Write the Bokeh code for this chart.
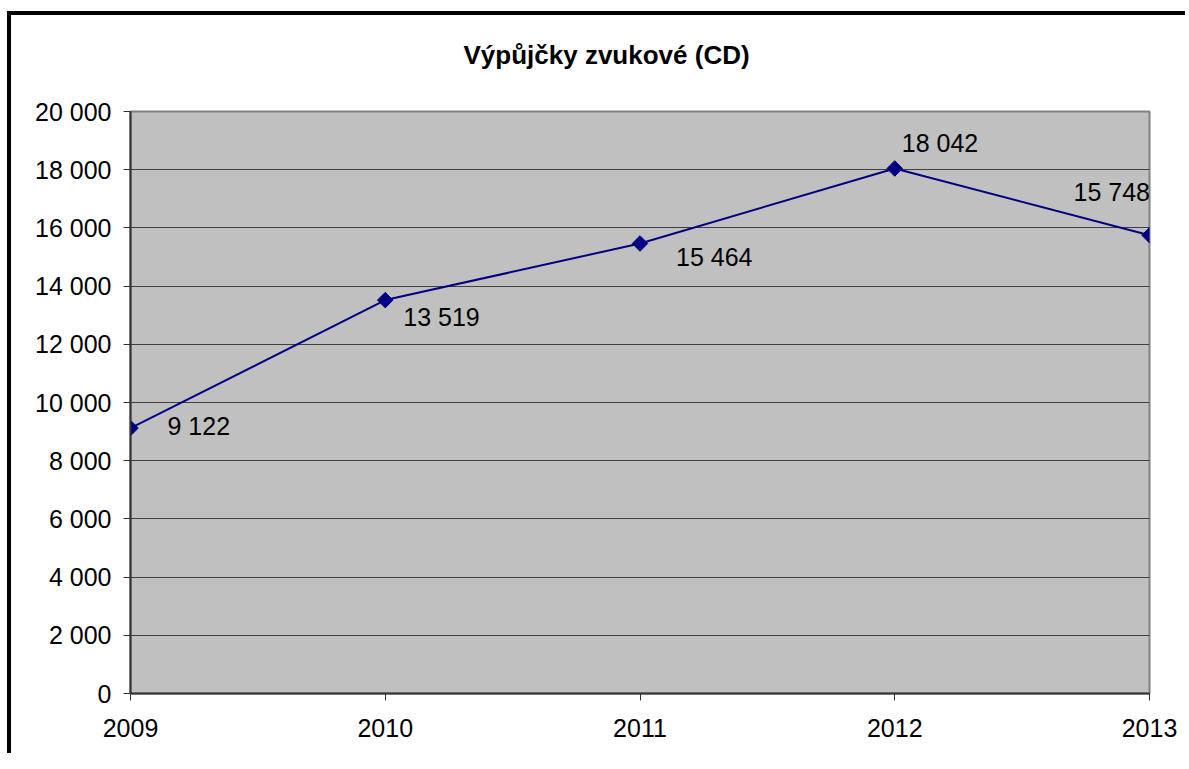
import math
from bokeh.plotting import figure
from bokeh.models import Range1d, FixedTicker, ColumnDataSource
from bokeh.core.properties import value
from bokeh.embed import file_html
from bokeh.resources import INLINE

# ---- data ----
chart_title = "Výpůjčky zvukové (CD)"
years = [2009, 2010, 2011, 2012, 2013]
loans = [9122, 13519, 15464, 18042, 15748]
x_tick_labels = ["2009", "2010", "2011", "2012", "2013"]
y_ticks = [0, 2000, 4000, 6000, 8000, 10000, 12000, 14000, 16000, 18000, 20000]
y_tick_labels = ["0", "2 000", "4 000", "6 000", "8 000", "10 000",
                 "12 000", "14 000", "16 000", "18 000", "20 000"]
y_min, y_max = 0, 20000

# ---- label placement (pixels, relative to each point) ----
label_dx = [37, 18, 36, 7, -76]
label_dy = [-2, 17, 14, -25, -43]

FONT = "Liberation Sans"
W, H = 1185, 753

p = figure(width=W, height=H, output_backend="svg", toolbar_location=None,
           x_range=Range1d(years[0], years[-1]), y_range=Range1d(y_min, y_max),
           min_border_left=130, min_border_right=W - 1149,
           min_border_top=110, min_border_bottom=H - 693)

# outer chart frame: a 4px black band on the left and top edges
# (inset shadows painted under the transparent canvas border)
p.styles = {"box-shadow": "inset 7px 11px 0px 0px white, "
                          "inset 11px 15px 0px 0px black"}
p.border_fill_color = None

p.background_fill_color = "#C0C0C0"
p.outline_line_color = "#808080"
p.outline_line_width = 2

# axes
for ax in (p.xaxis[0], p.yaxis[0]):
    ax.axis_line_color = "#333333"
    ax.axis_line_width = 2
    ax.major_tick_line_color = "#333333"
    ax.major_tick_line_width = 1
    ax.major_tick_in = 0
    ax.major_tick_out = 7
    ax.minor_tick_line_color = None
    ax.major_label_text_font = FONT
    ax.major_label_text_font_size = "25px"
    ax.major_label_text_color = "black"

p.xaxis.ticker = FixedTicker(ticks=years)
p.xaxis.major_label_overrides = {y: t for y, t in zip(years, x_tick_labels)}
p.xaxis.major_label_standoff = 18

p.yaxis.ticker = FixedTicker(ticks=y_ticks)
p.yaxis.major_label_overrides = {v: t for v, t in zip(y_ticks, y_tick_labels)}
p.yaxis.major_label_standoff = 12

p.xgrid.grid_line_color = None
p.ygrid.grid_line_color = "#404040"
p.ygrid.grid_line_width = 1

# series
p.line(years, loans, line_color="#000080", line_width=2)
p.scatter(years, loans, marker="square", angle=math.pi / 4, size=11,
          fill_color="#000080", line_color="#000080")

src = ColumnDataSource(dict(
    x=years, y=loans,
    txt=[f"{v:,}".replace(",", " ") for v in loans],
    dx=label_dx, dy=label_dy,
))
p.text(x="x", y="y", text="txt", x_offset="dx", y_offset="dy", source=src,
       text_font=value(FONT), text_font_size="25px", text_color="black",
       text_align="left", text_baseline="middle")

# chart title (the standoff lifts it well above the plot area)
p.title.text = chart_title
p.title.text_font = FONT
p.title.text_font_size = "26px"
p.title.text_font_style = "bold"
p.title.text_color = "black"
p.title.align = "left"
p.title.offset = 333
p.title.vertical_align = "top"
p.title.standoff = 79

open("out.html", "w").write(file_html(p, INLINE))
